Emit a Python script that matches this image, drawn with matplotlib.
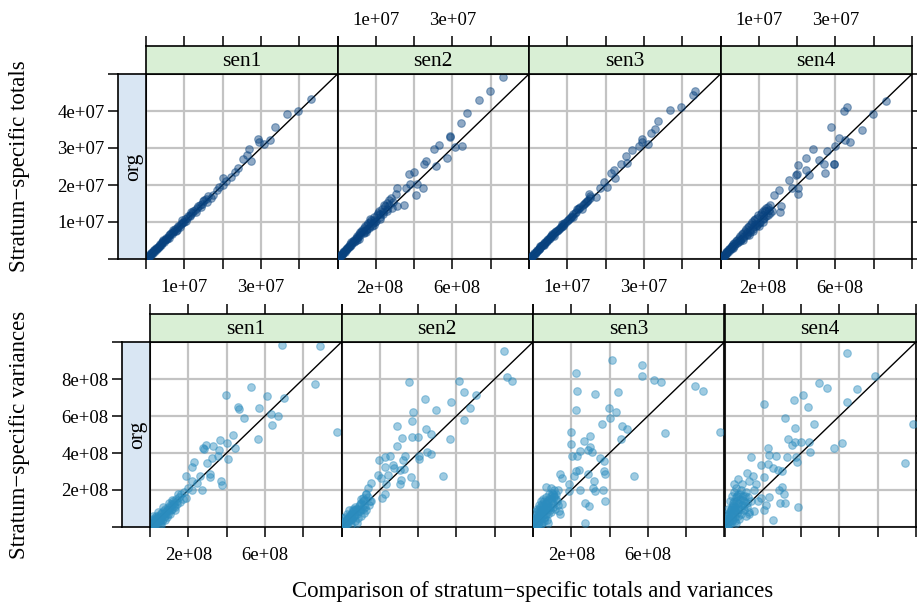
import matplotlib.pyplot as plt
import numpy as np

plt.rcParams['font.family'] = ['Liberation Serif', 'DejaVu Serif']

# panel names
panels = ['sen1', 'sen2', 'sen3', 'sen4']

# stratum-specific totals, (org, sen) pairs in units of 1e7
totals_sen1 = [(0.02,0.03),(0.05,0.05),(0.07,0.09),(0.1,0.11),(0.13,0.14),(0.16,0.18),(0.19,0.2),(0.22,0.24),
               (0.25,0.26),(0.28,0.3),(0.31,0.33),(0.34,0.36),(0.37,0.4),(0.41,0.42),(0.45,0.48),(0.49,0.51),
               (0.53,0.56),(0.57,0.6),(0.61,0.64),(0.66,0.69),(0.71,0.74),(0.76,0.8),(0.81,0.84),(0.86,0.9),
               (0.91,0.95),(0.96,1.0),(1.02,1.07),(1.08,1.12),(1.14,1.2),(1.2,1.25),(1.27,1.33),(1.34,1.38),
               (1.4,1.47),(1.47,1.5),(1.52,1.6),(0.12,0.1),(0.3,0.28),(0.55,0.53),(0.8,0.79),(1.05,1.03),
               (1.3,1.27),(0.2,0.25),(0.45,0.52),(0.7,0.78),(0.95,1.05),(1.18,1.28),(1.43,1.4),
               (0.01,0.01),(0.04,0.04),(0.08,0.08),(0.11,0.13),(0.14,0.15),(0.17,0.17),(0.23,0.22),(0.26,0.29),
               (0.33,0.32),(0.36,0.39),(0.39,0.38),(0.43,0.46),(0.47,0.46),(0.51,0.55),(0.59,0.58),(0.63,0.67),
               (0.68,0.67),(0.73,0.77),(0.78,0.77),(0.83,0.88),(0.88,0.87),(0.93,0.98),(1.0,0.99),(1.1,1.16),
               (1.16,1.15),(1.24,1.3),(1.36,1.44),(1.5,1.56),(1.56,1.62),(1.58,1.55),
               (1.62,1.7),(1.7,1.66),(1.74,1.73),(1.85,1.86),(1.9,1.95),(2.0,2.0),(2.01,2.2),(2.1,2.1),
               (2.21,2.22),(2.33,2.34),(2.4,2.45),(2.53,2.69),(2.65,2.8),(2.69,2.96),(2.73,2.64),(2.93,3.23),
               (2.95,3.15),(3.07,3.1),(3.23,3.21),(3.36,3.58),(3.68,3.92),(3.97,3.99),(4.31,4.33)]
totals_sen2 = [(0.03,0.04),(0.06,0.07),(0.09,0.11),(0.12,0.13),(0.15,0.19),(0.18,0.2),(0.21,0.26),(0.24,0.27),
               (0.27,0.33),(0.3,0.32),(0.33,0.41),(0.36,0.39),(0.4,0.49),(0.44,0.47),(0.48,0.58),(0.52,0.56),
               (0.56,0.68),(0.6,0.64),(0.64,0.78),(0.68,0.72),(0.72,0.88),(0.76,0.8),(0.8,0.97),(0.84,0.88),
               (0.88,1.06),(0.92,0.97),(0.96,1.14),(1.0,1.04),(1.05,1.25),(1.1,1.13),(1.15,1.35),(1.2,1.22),
               (1.25,1.42),(1.3,1.3),(1.35,1.45),(1.42,1.38),(0.5,0.52),(0.7,0.7),(0.9,0.9),(1.1,1.08),
               (0.2,0.2),(0.1,0.1),(0.35,0.45),(0.62,0.74),(0.85,1.0),(1.08,1.3),
               (0.02,0.02),(0.05,0.06),(0.08,0.1),(0.11,0.12),(0.14,0.16),(0.17,0.22),(0.23,0.24),(0.26,0.3),
               (0.29,0.36),(0.32,0.35),(0.38,0.44),(0.42,0.52),(0.46,0.5),(0.5,0.62),(0.54,0.6),(0.58,0.72),
               (0.66,0.75),(0.7,0.84),(0.74,0.78),(0.78,0.92),(0.82,0.85),(0.86,1.08),(0.94,1.05),(0.98,1.0),
               (1.02,1.18),(1.12,1.22),(1.18,1.28),(1.22,1.45),(1.28,1.36),(1.35,1.6),(1.45,1.55),(0.55,0.55),
               (0.75,0.74),(0.95,0.93),
               (1.3,1.51),(1.39,1.64),(1.52,1.77),(1.56,1.91),(1.56,1.42),(1.74,1.46),(1.78,1.91),(1.87,2.31),
               (1.89,2.04),(2.01,2.36),(2.04,1.73),(2.08,2.04),(2.24,1.91),(2.27,2.56),(2.32,2.65),(2.53,2.96),
               (2.57,2.51),(2.65,3.09),(2.86,2.72),(2.94,3.32),(2.95,3.3),(3.06,3.03),(3.23,3.67),(3.24,3.05),
               (3.38,3.94),(3.69,4.3),(3.99,4.55),(4.31,4.91)]
totals_sen3 = [(0.02,0.02),(0.05,0.06),(0.08,0.09),(0.11,0.12),(0.14,0.16),(0.17,0.18),(0.2,0.22),(0.23,0.25),
               (0.26,0.28),(0.29,0.32),(0.32,0.34),(0.36,0.38),(0.4,0.43),(0.44,0.46),(0.48,0.51),(0.52,0.55),
               (0.56,0.6),(0.61,0.64),(0.66,0.69),(0.71,0.75),(0.76,0.79),(0.81,0.85),(0.86,0.9),(0.92,0.96),
               (0.98,1.02),(1.04,1.09),(1.1,1.14),(1.16,1.21),(1.22,1.27),(1.28,1.34),(1.34,1.4),(1.4,1.45),
               (1.46,1.52),(1.52,1.58),(1.58,1.66),(0.15,0.13),(0.4,0.38),(0.65,0.63),(0.9,0.88),(1.15,1.13),
               (1.38,1.36),(0.3,0.36),(0.6,0.67),(0.85,0.94),(1.25,1.35),
               (0.01,0.01),(0.04,0.04),(0.07,0.08),(0.1,0.1),(0.13,0.14),(0.19,0.2),(0.22,0.24),(0.25,0.26),
               (0.28,0.3),(0.34,0.37),(0.38,0.4),(0.42,0.45),(0.46,0.49),(0.5,0.53),(0.54,0.57),(0.58,0.62),
               (0.63,0.66),(0.68,0.72),(0.73,0.76),(0.78,0.82),(0.83,0.87),(0.88,0.93),(0.95,0.98),(1.01,1.05),
               (1.07,1.12),(1.13,1.17),(1.19,1.24),(1.31,1.37),(1.43,1.49),(1.49,1.55),(1.55,1.6),(1.6,1.7),
               (1.56,1.77),(1.74,1.68),(1.85,1.93),(1.95,2.09),(2.04,1.95),(2.13,2.33),(2.21,2.4),(2.24,2.18),
               (2.39,2.56),(2.52,2.78),(2.56,2.6),(2.69,2.94),(2.86,3.06),(2.95,3.25),(2.95,3.16),(3.1,3.12),
               (3.19,3.41),(3.28,3.52),(3.37,3.72),(3.69,4.04),(3.97,4.1),(4.28,4.42),(4.34,4.53)]
totals_sen4 = [(0.03,0.03),(0.06,0.07),(0.09,0.11),(0.12,0.12),(0.15,0.19),(0.18,0.18),(0.21,0.26),(0.24,0.25),
               (0.27,0.33),(0.3,0.3),(0.33,0.41),(0.36,0.36),(0.4,0.48),(0.44,0.43),(0.48,0.58),(0.52,0.5),
               (0.56,0.67),(0.6,0.58),(0.64,0.77),(0.68,0.66),(0.72,0.86),(0.76,0.74),(0.8,0.95),(0.84,0.82),
               (0.88,1.05),(0.92,0.9),(0.96,1.12),(1.0,0.98),(1.05,1.22),(1.1,1.08),(1.15,1.3),(1.2,1.15),
               (1.25,1.4),(1.3,1.25),(0.5,0.52),(0.7,0.72),(0.9,0.95),(1.12,1.2),(0.3,0.35),(0.15,0.15),
               (0.75,0.65),(1.0,0.9),
               (0.02,0.02),(0.05,0.05),(0.08,0.09),(0.11,0.13),(0.14,0.14),(0.17,0.21),(0.2,0.2),(0.23,0.28),
               (0.26,0.26),(0.29,0.36),(0.32,0.31),(0.35,0.42),(0.38,0.4),(0.42,0.52),(0.46,0.46),(0.5,0.62),
               (0.54,0.54),(0.58,0.7),(0.62,0.62),(0.66,0.8),(0.7,0.68),(0.74,0.9),(0.78,0.78),(0.82,1.0),
               (0.86,0.86),(0.9,1.08),(0.94,0.92),(0.98,1.18),(1.02,1.0),(1.08,1.28),(1.14,1.12),(1.2,1.38),
               (1.25,1.2),(1.3,1.45),(1.35,1.3),(0.6,0.52),(0.85,0.75),(1.1,1.0),
               (1.13,1.33),(1.26,1.33),(1.39,1.73),(1.52,1.86),(1.55,1.28),(1.57,1.42),(1.78,2.13),(1.87,1.91),
               (1.96,2.27),(2.0,2.31),(2.02,1.91),(2.02,1.76),(2.02,2.54),(2.22,2.72),(2.24,2.4),(2.3,2.27),
               (2.42,2.98),(2.57,2.67),(2.7,2.58),(2.74,2.33),(2.78,2.92),(2.89,3.57),(2.96,2.56),(2.97,2.57),
               (2.98,3.05),(3.1,3.27),(3.22,4.01),(3.26,3.21),(3.29,4.12),(3.37,3.16),(3.7,3.48),(3.97,3.92),
               (4.33,4.28)]

# stratum-specific variances, (org, sen) pairs in units of 2e8
var_sen1 = [(0.03,0.05),(0.06,0.02),(0.08,0.12),(0.1,0.06),(0.12,0.18),(0.15,0.1),(0.18,0.24),(0.2,0.14),
            (0.22,0.3),(0.25,0.2),(0.28,0.35),(0.3,0.25),(0.32,0.15),(0.35,0.42),(0.38,0.3),(0.4,0.5),
            (0.42,0.38),(0.45,0.28),(0.48,0.55),(0.5,0.45),(0.52,0.35),(0.55,0.62),(0.58,0.5),(0.6,0.7),
            (0.62,0.58),(0.65,0.45),(0.68,0.75),(0.7,0.62),(0.75,0.8),(0.78,0.68),(0.82,0.88),(0.85,0.75),
            (0.9,0.95),(0.15,0.3),(0.05,0.2),(0.25,0.08),(0.4,0.2),(0.58,0.72),(0.35,0.55),(0.2,0.4),
            (0.1,0.25),(0.5,0.65),(0.72,0.9),
            (0.02,0.02),(0.05,0.1),(0.07,0.04),(0.1,0.12),(0.13,0.08),(0.14,0.22),(0.17,0.15),(0.2,0.2),
            (0.23,0.25),(0.26,0.15),(0.28,0.28),(0.3,0.38),(0.33,0.22),(0.36,0.35),(0.4,0.4),(0.44,0.45),
            (0.46,0.35),(0.5,0.52),(0.54,0.45),(0.57,0.6),(0.62,0.65),(0.66,0.55),(0.7,0.7),(0.08,0.3),
            (0.3,0.05),
            (0.93,1.39),(0.95,0.79),(1.0,1.06),(1.09,1.01),(1.09,1.25),(1.1,1.62),(1.15,1.77),(1.22,1.19),
            (1.3,1.37),(1.35,0.99),(1.39,2.13),(1.41,2.11),(1.46,2.22),(1.49,1.73),(1.56,1.42),(1.56,1.34),
            (1.61,1.86),(1.65,2.2),(1.78,1.91),(1.8,2.09),(1.84,2.34),(1.85,1.25),(1.89,1.13),(1.98,3.57),
            (2.0,2.27),(2.04,1.85),(2.17,2.49),(2.21,2.13),(2.3,3.25),(2.32,3.2),(2.46,2.94),(2.64,3.79),
            (2.82,2.37),(2.84,3.21),(3.06,3.53),(3.17,3.05),(3.19,2.76),(3.34,3.01),(3.45,4.93),(3.49,3.48),
            (4.32,3.87),(4.44,4.88),(4.89,2.58)]
var_sen2 = [(0.03,0.04),(0.06,0.1),(0.08,0.02),(0.1,0.15),(0.12,0.07),(0.15,0.22),(0.18,0.12),(0.2,0.28),
            (0.22,0.18),(0.25,0.35),(0.28,0.22),(0.3,0.42),(0.32,0.3),(0.35,0.15),(0.38,0.5),(0.4,0.36),
            (0.42,0.25),(0.45,0.58),(0.48,0.42),(0.5,0.3),(0.52,0.65),(0.55,0.5),(0.58,0.38),(0.6,0.72),
            (0.62,0.55),(0.65,0.45),(0.7,0.8),(0.72,0.6),(0.15,0.35),(0.25,0.05),(0.05,0.25),(0.4,0.12),
            (0.35,0.55),(0.2,0.45),(0.5,0.75),(0.65,0.9),(0.78,0.7),
            (0.02,0.02),(0.04,0.08),(0.07,0.05),(0.09,0.12),(0.12,0.18),(0.14,0.1),(0.17,0.25),(0.2,0.18),
            (0.22,0.32),(0.25,0.22),(0.28,0.38),(0.3,0.28),(0.33,0.45),(0.36,0.32),(0.4,0.5),(0.44,0.42),
            (0.47,0.62),(0.52,0.48),(0.55,0.7),(0.6,0.6),(0.1,0.28),(0.3,0.5),
            (0.56,0.79),(0.65,0.88),(0.69,1.06),(0.74,0.7),(0.78,1.19),(0.94,1.4),(0.98,1.82),(1.04,1.33),
            (1.06,0.79),(1.13,0.9),(1.13,1.62),(1.13,1.88),(1.17,1.15),(1.22,1.4),(1.26,1.91),(1.35,1.68),
            (1.37,1.6),(1.46,2.19),(1.46,2.72),(1.52,1.55),(1.52,1.17),(1.56,1.28),(1.59,2.41),(1.61,1.82),
            (1.62,1.58),(1.67,1.91),(1.76,3.91),(1.81,1.34),(1.85,2.42),(1.85,2.87),(1.86,3.12),(1.91,1.16),
            (2.0,2.42),(2.02,1.85),(2.02,1.91),(2.19,3.45),(2.21,2.65),(2.24,2.04),(2.33,2.52),(2.34,1.98),
            (2.47,3.17),(2.66,1.37),(2.84,2.38),(2.86,3.38),(3.06,3.94),(3.19,2.9),(3.21,3.66),(3.36,3.21),
            (3.5,3.57),(4.23,4.75),(4.32,4.06),(4.44,3.94)]
var_sen3 = [(0.02,0.05),(0.04,0.15),(0.05,0.02),(0.07,0.25),(0.08,0.1),(0.1,0.35),(0.1,0.05),(0.12,0.2),
            (0.14,0.45),(0.15,0.12),(0.17,0.3),(0.18,0.55),(0.2,0.08),(0.2,0.4),(0.22,0.22),(0.24,0.62),
            (0.25,0.32),(0.27,0.5),(0.28,0.15),(0.3,0.7),(0.3,0.42),(0.32,0.28),(0.34,0.58),(0.35,0.8),
            (0.36,0.2),(0.38,0.48),(0.4,0.65),(0.4,0.35),(0.42,0.88),(0.45,0.55),(0.46,0.75),(0.48,0.4),
            (0.5,0.92),(0.52,0.62),(0.55,0.8),(0.58,0.5),(0.6,0.88),(0.62,0.7),(0.65,0.6),(0.15,0.6),
            (0.05,0.4),(0.25,0.75),
            (0.01,0.02),(0.03,0.08),(0.06,0.05),(0.06,0.18),(0.09,0.15),(0.09,0.28),(0.12,0.08),(0.13,0.3),
            (0.16,0.2),(0.16,0.4),(0.19,0.3),(0.21,0.5),(0.23,0.12),(0.24,0.38),(0.26,0.6),(0.29,0.25),
            (0.31,0.5),(0.33,0.65),(0.35,0.35),(0.37,0.7),(0.39,0.55),(0.43,0.75),(0.44,0.45),(0.47,0.85),
            (0.5,0.7),(0.53,0.55),(0.56,0.85),(0.6,0.75),(0.2,0.7),(0.1,0.5),
            (0.33,1.08),(0.39,0.12),(0.48,1.06),(0.52,0.88),(0.56,0.99),(0.65,1.01),(0.69,0.43),(0.71,0.34),
            (0.71,1.42),(0.76,1.33),(0.76,0.63),(0.93,1.15),(0.95,0.97),(1.0,2.58),(1.0,2.25),(1.02,1.91),
            (1.06,1.39),(1.11,1.51),(1.11,4.15),(1.13,3.15),(1.15,1.93),(1.15,3.67),(1.2,1.55),(1.23,2.06),
            (1.23,0.99),(1.32,2.33),(1.35,0.65),(1.36,0.12),(1.43,1.42),(1.43,2.09),(1.46,0.56),(1.48,2.15),
            (1.5,2.45),(1.55,2.04),(1.56,1.06),(1.58,1.24),(1.61,3.59),(1.63,0.97),(1.76,1.86),(1.8,2.78),
            (1.84,0.99),(1.85,1.52),(1.85,1.79),(1.87,1.44),(1.89,0.7),(1.98,3.21),(2.0,2.94),(2.05,4.51),
            (2.17,3.11),(2.22,3.66),(2.3,2.38),(2.33,2.74),(2.46,2.64),(2.65,1.39),(2.84,4.07),(2.85,4.37),
            (3.17,3.97),(3.34,3.92),(3.45,2.55),(4.23,3.82),(4.44,3.67),(4.89,2.56)]
var_sen4 = [(0.02,0.04),(0.04,0.12),(0.05,0.02),(0.07,0.22),(0.08,0.08),(0.1,0.3),(0.11,0.15),(0.13,0.05),
            (0.14,0.4),(0.15,0.22),(0.17,0.5),(0.18,0.1),(0.2,0.32),(0.21,0.6),(0.22,0.18),(0.24,0.45),
            (0.25,0.7),(0.27,0.28),(0.28,0.55),(0.3,0.8),(0.3,0.12),(0.32,0.38),(0.34,0.65),(0.35,0.9),
            (0.37,0.22),(0.38,0.5),(0.4,0.75),(0.42,1.0),(0.43,0.35),(0.45,0.6),(0.48,0.85),(0.5,0.45),
            (0.52,0.7),(0.55,0.3),(0.56,0.95),(0.6,0.55),(0.62,0.8),(0.65,0.4),(0.68,0.7),(0.1,0.5),
            (0.2,0.85),(0.05,0.35),(0.3,1.05),
            (0.01,0.02),(0.03,0.08),(0.06,0.15),(0.06,0.05),(0.09,0.25),(0.1,0.1),(0.12,0.35),(0.13,0.18),
            (0.16,0.3),(0.16,0.45),(0.19,0.2),(0.19,0.55),(0.23,0.35),(0.23,0.65),(0.26,0.5),(0.27,0.15),
            (0.29,0.7),(0.31,0.42),(0.33,0.85),(0.35,0.55),(0.36,0.3),(0.39,0.65),(0.41,0.88),(0.44,0.48),
            (0.47,0.72),(0.5,0.6),(0.53,0.85),(0.58,0.65),(0.15,0.7),(0.25,0.95),
            (0.26,1.16),(0.36,1.3),(0.45,1.15),(0.59,1.46),(0.63,1.24),(0.65,0.34),(0.68,1.89),(0.74,1.39),
            (0.76,1.01),(0.78,0.43),(0.82,1.15),(0.87,0.7),(0.94,1.68),(0.95,0.79),(1.02,0.47),(1.04,1.36),
            (1.04,3.32),(1.09,0.59),(1.13,1.7),(1.13,2.13),(1.15,0.82),(1.15,1.95),(1.26,1.59),(1.26,0.19),
            (1.35,1.91),(1.39,1.55),(1.43,0.99),(1.46,0.64),(1.49,1.51),(1.49,1.08),(1.56,0.88),(1.59,0.64),
            (1.59,2.94),(1.62,1.89),(1.65,2.37),(1.76,2.22),(1.81,3.43),(1.85,2.31),(1.85,2.67),(1.87,1.89),
            (1.89,1.77),(1.91,0.55),(2.0,2.31),(2.06,3.58),(2.19,3.25),(2.21,2.31),(2.24,2.03),(2.34,2.78),
            (2.47,3.88),(2.67,3.77),(2.85,2.14),(3.08,2.27),(3.19,3.37),(3.21,4.7),(3.46,3.72),(3.93,4.08),
            (4.71,1.72),(4.91,2.79)]

tot_ylabels = ['', '1e+07', '2e+07', '3e+07', '4e+07', '']
tot_xlabels = ['', '1e+07', '', '3e+07', '', '']
var_ylabels = ['', '2e+08', '4e+08', '6e+08', '8e+08', '']
var_xlabels = ['', '2e+08', '', '6e+08', '', '']

W, H = 917, 606
fig = plt.figure(figsize=(W / 100, H / 100), dpi=100)


def rect(x0, y0, x1, y1):
    # pixel box (top-left origin) -> figure fraction
    return [x0 / W, 1 - y1 / H, (x1 - x0) / W, (y1 - y0) / H]


GREEN = '#d9efd5'
BLUE_STRIP = '#d9e6f3'
GRID = '#c3c3c3'
TICK_LEN = 7.5
FS = 13.5
FS_STRIP = 15.5
FS_LAB = 16.5


def draw_block(series, unit, color, x0, y_strip, y_top, y_bot, xlabels, ylabels):
    pw = 766 / 4
    lim = 5 * unit
    ticks = np.arange(6) * unit
    for i, (name, pts) in enumerate(zip(panels, series)):
        pts = np.array(pts) * unit
        ax = fig.add_axes(rect(x0 + i * pw, y_top, x0 + (i + 1) * pw, y_bot))
        ax.set_xlim(0, lim)
        ax.set_ylim(0, lim)
        ax.set_xticks(ticks)
        ax.set_yticks(ticks)
        ax.set_xticklabels(xlabels)
        ax.grid(True, color=GRID, lw=1.6)
        ax.set_axisbelow(True)
        ax.plot([0, lim], [0, lim], color='black', lw=1.0, zorder=2)
        ax.scatter(pts[:, 0], pts[:, 1], s=30, facecolor=color, edgecolor=color,
                   linewidths=0.8, alpha=0.45, zorder=3)
        ax.tick_params(axis='x', direction='out', length=TICK_LEN, width=1.1,
                       labelbottom=(i in (0, 2)), labelsize=FS, pad=7)
        ax.tick_params(axis='y', direction='out', length=TICK_LEN, width=1.1,
                       left=False, labelleft=False, right=(i == 3), labelright=False)
        for sp in ax.spines.values():
            sp.set_linewidth(1.2)

        # strip with top ticks
        sax = fig.add_axes(rect(x0 + i * pw, y_strip, x0 + (i + 1) * pw, y_top))
        sax.set_facecolor(GREEN)
        sax.set_xlim(0, lim)
        sax.set_xticks(ticks)
        sax.set_xticklabels(xlabels)
        sax.set_yticks([])
        sax.tick_params(axis='x', direction='out', length=TICK_LEN, width=1.1,
                        bottom=False, labelbottom=False, top=True,
                        labeltop=(i in (1, 3)), labelsize=FS, pad=5)
        sax.text(0.5, 0.45, name, transform=sax.transAxes, ha='center', va='center',
                 fontsize=FS_STRIP)
        for sp in sax.spines.values():
            sp.set_linewidth(1.2)

    # conditioning strip on the left
    oax = fig.add_axes(rect(x0 - 28, y_top, x0, y_bot))
    oax.set_facecolor(BLUE_STRIP)
    oax.set_ylim(0, lim)
    oax.set_yticks(ticks)
    oax.set_yticklabels(ylabels)
    oax.set_xticks([])
    oax.tick_params(axis='y', direction='out', length=TICK_LEN, width=1.1,
                    labelsize=FS, pad=2)
    oax.text(0.55, 0.5, 'org', transform=oax.transAxes, rotation=90,
             ha='center', va='center', fontsize=FS_STRIP)
    for sp in oax.spines.values():
        sp.set_linewidth(1.2)


draw_block([totals_sen1, totals_sen2, totals_sen3, totals_sen4], 1e7, '#08427f',
           146, 46, 74, 259, tot_xlabels, tot_ylabels)
draw_block([var_sen1, var_sen2, var_sen3, var_sen4], 2e8, '#2b8cbe',
           150, 314, 342, 527, var_xlabels, var_ylabels)

fig.text(20 / W, 1 - 166 / H, 'Stratum\u2212specific totals', rotation=90,
         ha='center', va='center', fontsize=FS_LAB)
fig.text(20 / W, 1 - 435 / H, 'Stratum\u2212specific variances', rotation=90,
         ha='center', va='center', fontsize=FS_LAB)
fig.text(533 / W, 1 - 592 / H, 'Comparison of stratum\u2212specific totals and variances',
         ha='center', va='center', fontsize=FS_LAB)

fig.savefig('out.png', dpi=100)
